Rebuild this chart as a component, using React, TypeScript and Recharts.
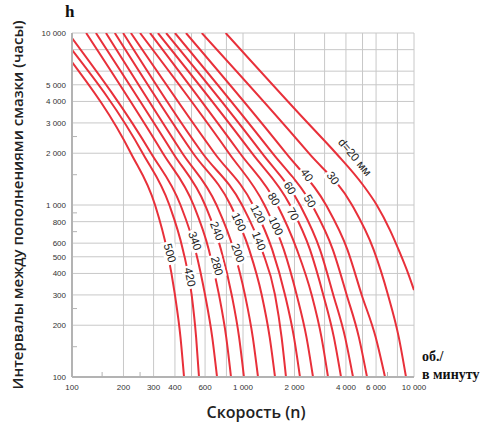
import React from 'react'
import { LineChart, Line, XAxis, YAxis, CartesianGrid, ReferenceDot } from 'recharts'

// grid + ticks
const gridValues = [100, 200, 300, 400, 500, 600, 800, 1000, 2000, 3000, 4000, 5000, 6000, 8000, 10000]
const xTickLabels = [100, 200, 300, 400, 600, 1000, 2000, 4000, 6000, 10000]
const xMinorTicks = [150, 250, 7000]
const yTickLabels = [100, 200, 300, 400, 500, 600, 800, 1000, 2000, 3000, 4000, 5000, 10000]
const yMinorTicks = [150, 250, 700, 900, 1500, 2500]

// curves: [speed n (об/мин), interval h (часы)]
const d20 = [[792, 10000], [2305, 3120], [3499, 2000], [5032, 1307], [6053, 1000], [7236, 715], [8279, 526], [9226, 402], [10000, 320]]
const d30 = [[574, 10000], [2426, 2000], [4340, 1000], [5804, 550], [7047, 300], [8150, 170], [8980, 100]]
const d40 = [[464, 10000], [1784, 2000], [3058, 1000], [4079, 550], [4945, 300], [5970, 170], [6768, 100]]
const d50 = [[400, 10000], [1488, 2000], [2532, 1000], [3351, 550], [4041, 300], [4763, 170], [5311, 100]]
const d60 = [[355, 10000], [1291, 2000], [2154, 1000], [2820, 550], [3374, 300], [3955, 170], [4399, 100]]
const d70 = [[318, 10000], [1129, 2000], [1883, 1000], [2465, 550], [2949, 300], [3401, 170], [3743, 100]]
const d80 = [[286, 10000], [960, 2000], [1587, 1000], [2067, 550], [2522, 300], [2878, 170], [3142, 100]]
const d100 = [[250, 10000], [828, 2000], [1336, 1000], [1732, 550], [2061, 300], [2352, 170], [2567, 100]]
const d120 = [[221, 10000], [682, 2000], [1144, 1000], [1482, 550], [1761, 300], [1987, 170], [2154, 100]]
const d140 = [[199, 10000], [579, 2000], [987, 1000], [1288, 550], [1539, 300], [1682, 170], [1784, 100]]
const d160 = [[178, 10000], [511, 2000], [845, 1000], [1087, 550], [1287, 300], [1433, 170], [1539, 100]]
const d200 = [[158, 10000], [442, 2000], [700, 1000], [881, 550], [1027, 300], [1141, 170], [1224, 100]]
const d240 = [[138, 10000], [390, 2000], [600, 1000], [744, 550], [859, 300], [949, 170], [1013, 100]]
const d280 = [[121, 10000], [340, 2000], [514, 1000], [631, 550], [724, 300], [798, 170], [851, 100]]
const d340 = [[100, 9350], [290, 2000], [431, 1000], [526, 550], [600, 300], [661, 170], [705, 100]]
const d420 = [[100, 7970], [259, 2000], [371, 1000], [445, 550], [501, 300], [532, 170], [553, 100]]
const d500 = [[100, 6780], [221, 2000], [306, 1000], [359, 550], [400, 300], [431, 170], [452, 100]]

// curve labels
const labelText = ['d=20 мм', '30', '40', '50', '60', '70', '80', '100', '120', '140', '160', '200', '240', '280', '340', '420', '500']
const labelN = [4519, 3360, 2367, 2465, 1883, 1960, 1518, 1560, 1224, 1241, 948, 935, 705, 705, 524, 490, 374]
const labelH = [1901, 1436, 1494, 1055, 1256, 887, 1083, 755, 887, 618, 797, 526, 706, 442, 618, 381, 526]
const labelAngle = [50, 53, 55, 60, 58, 62, 60, 65, 63, 68, 65, 70, 68, 75, 70, 78, 75]

const curves = [d20, d30, d40, d50, d60, d70, d80, d100, d120, d140, d160, d200, d240, d280, d340, d420, d500]

const RED = '#e8303a'
const GRID = '#c8c8c8'
const AXIS = '#b3b3b3'
const TICK_FONT = '"Liberation Sans", Arial, sans-serif'

const fmt = (v: number) =>
  v >= 1000 ? `${Math.floor(v / 1000)} ${String(v % 1000).padStart(3, '0')}` : String(v)

function XTick(props: any) {
  const { x, y, payload } = props
  const v = payload.value
  if (xMinorTicks.includes(v)) {
    return <line x1={x} x2={x} y1={y - 6} y2={y - 11} stroke={AXIS} strokeWidth={1} />
  }
  return (
    <text x={x} y={y} dy={7} textAnchor="middle" fontSize={8} fill="#333" fontFamily={TICK_FONT}>
      {fmt(v)}
    </text>
  )
}

function YTick(props: any) {
  const { x, y, payload } = props
  const v = payload.value
  if (yMinorTicks.includes(v)) {
    return <line x1={x + 6} x2={x + 11} y1={y} y2={y} stroke={AXIS} strokeWidth={1} />
  }
  return (
    <text x={x} y={y} dy={3} textAnchor="end" fontSize={8} fill="#333" fontFamily={TICK_FONT}>
      {fmt(v)}
    </text>
  )
}

function CurveLabel({ cx, cy, text, angle }: { cx: number; cy: number; text: string; angle: number }) {
  const boxed = text.length <= 3
  const w = text.length * 6.4 + 4
  return (
    <g transform={`translate(${cx},${cy}) rotate(${angle})`}>
      {boxed && <rect x={-w / 2} y={-7} width={w} height={14} fill="#fff" />}
      <text x={0} y={0} dy={4} textAnchor="middle" fontSize={11.5} fill="#222" fontFamily={TICK_FONT}>
        {text}
      </text>
    </g>
  )
}

export default function App() {
  const xTicks = [...xTickLabels, ...xMinorTicks].sort((a, b) => a - b)
  const yTicks = [...yTickLabels, ...yMinorTicks].sort((a, b) => a - b)

  return (
    <div style={{ position: 'relative', width: 482, height: 425, background: '#fff' }}>
      <style>{'body{margin:0}'}</style>
      <LineChart width={482} height={425} margin={{ top: 33, right: 68, left: 0, bottom: 0 }}>
        <CartesianGrid
          stroke={GRID}
          strokeWidth={1}
          verticalValues={gridValues}
          horizontalValues={gridValues}
        />
        <XAxis
          type="number"
          dataKey="n"
          scale="log"
          domain={[100, 10000]}
          allowDataOverflow
          ticks={xTicks}
          interval={0}
          tick={<XTick />}
          tickLine={false}
          tickSize={0}
          tickMargin={6}
          height={48}
          axisLine={{ stroke: AXIS, strokeWidth: 2 }}
        />
        <YAxis
          type="number"
          dataKey="h"
          scale="log"
          domain={[100, 10000]}
          allowDataOverflow
          ticks={yTicks}
          interval={0}
          tick={<YTick />}
          tickLine={false}
          tickSize={0}
          tickMargin={6}
          width={72}
          axisLine={{ stroke: AXIS, strokeWidth: 2 }}
        />
        {curves.map((c, i) => (
          <Line
            key={`c${i}`}
            data={c.map(([n, h]) => ({ n, h }))}
            dataKey="h"
            type="monotone"
            stroke={RED}
            strokeWidth={2}
            dot={false}
            activeDot={false}
            isAnimationActive={false}
          />
        ))}
        {labelText.map((t, i) => (
          <ReferenceDot
            key={`l${i}`}
            x={labelN[i]}
            y={labelH[i]}
            r={0}
            shape={(p: any) => <CurveLabel cx={p.cx} cy={p.cy} text={t} angle={labelAngle[i]} />}
          />
        ))}
      </LineChart>

      <div
        style={{
          position: 'absolute',
          left: 65,
          top: 2,
          fontFamily: '"Liberation Serif", serif',
          fontWeight: 700,
          fontSize: 17,
          color: '#111',
        }}
      >
        h
      </div>
      <div
        style={{
          position: 'absolute',
          left: 422,
          top: 348,
          fontFamily: '"Liberation Serif", serif',
          fontWeight: 700,
          fontSize: 14,
          lineHeight: '18px',
          color: '#111',
          whiteSpace: 'nowrap',
        }}
      >
        об./
        <br />в минуту
      </div>
      <div
        style={{
          position: 'absolute',
          left: 17 - 200,
          top: 205 - 11,
          width: 400,
          height: 22,
          lineHeight: '22px',
          textAlign: 'center',
          transform: 'rotate(-90deg)',
          fontFamily: '"Open Sans", sans-serif',
          fontWeight: 600,
          fontSize: 15,
          color: '#222',
          whiteSpace: 'nowrap',
        }}
      >
        Интервалы между пополнениями смазки (часы)
      </div>
      <div
        style={{
          position: 'absolute',
          left: 156,
          top: 401,
          width: 200,
          textAlign: 'center',
          fontFamily: '"Open Sans", sans-serif',
          fontWeight: 600,
          fontSize: 16,
          lineHeight: '22px',
          color: '#222',
        }}
      >
        Скорость (n)
      </div>
    </div>
  )
}
